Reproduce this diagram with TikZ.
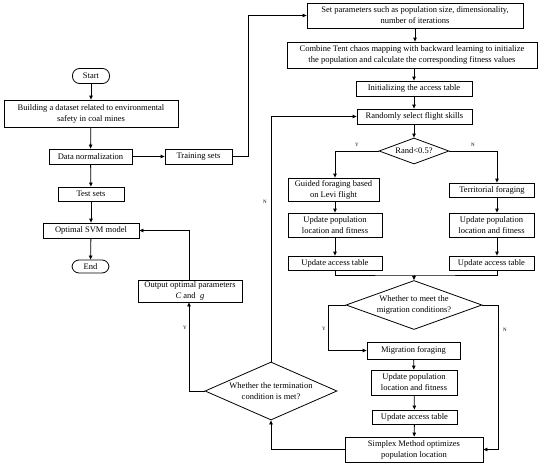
\documentclass[tikz,border=0pt]{standalone}
\usepackage{fontspec}
\setmainfont{Liberation Serif}
\usetikzlibrary{arrows.meta,shapes.geometric}
\begin{document}
\begin{tikzpicture}[x=1pt,y=-1pt,
  font=\fontsize{8.5}{11}\selectfont,
  box/.style={draw,line width=0.8pt,inner sep=1pt,align=center},
  term/.style={draw,line width=0.8pt,rounded corners=7pt,inner sep=1pt,align=center},
  dia/.style={draw,line width=0.8pt,diamond,inner sep=0pt,align=center},
  ln/.style={line width=0.8pt},
  arr/.style={line width=0.8pt,-{Triangle[length=4pt,width=3.5pt]}},
  lab/.style={font=\fontsize{5}{6}\selectfont,inner sep=0pt}]
\useasboundingbox (0,0) rectangle (550,469);
% left column
\node[term,minimum width=37,minimum height=15] (start) at (91,76) {Start};
\node[box,minimum width=174,minimum height=27] (build) at (91,113.5) {Building a dataset related to environmental\\safety in coal mines};
\node[box,minimum width=83,minimum height=15] (norm) at (90.5,156.5) {Data normalization};
\node[box,minimum width=67,minimum height=15] (train) at (198.5,156.5) {Training sets};
\node[box,minimum width=66,minimum height=14] (test) at (91,194) {Test sets};
\node[box,minimum width=96,minimum height=15] (svm) at (91,230.5) {Optimal SVM model};
\node[term,minimum width=37,minimum height=13] (end) at (90.5,266.5) {End};
\node[box,minimum width=104,minimum height=22] (out) at (190,291) {Output optimal parameters\\ \textit{C} and\; \textit{g}};
% right part
\node[box,minimum width=216,minimum height=25] (setp) at (415,15.5) {Set parameters such as population size, dimensionality,\\number of iterations};
\node[box,minimum width=250,minimum height=26] (comb) at (412,55) {Combine Tent chaos mapping with backward learning to initialize\\the population and calculate the corresponding fitness values};
\node[box,minimum width=116,minimum height=15] (init) at (414,88.5) {Initializing the access table};
\node[box,minimum width=115,minimum height=15] (rand) at (414.5,116.5) {Randomly select flight skills};
\node[dia,minimum width=70,minimum height=26,aspect=2.7] (rd) at (414,151) {Rand<0.5?};
\node[box,minimum width=91,minimum height=23] (guid) at (333.5,189.5) {Guided foraging based\\on Levi flight};
\node[box,minimum width=85,minimum height=14] (terr) at (492,190) {Territorial foraging};
\node[box,minimum width=94,minimum height=24] (upl) at (335,225) {Update population\\location and fitness};
\node[box,minimum width=85,minimum height=24] (upr) at (491.5,225) {Update population\\location and fitness};
\node[box,minimum width=94,minimum height=14] (ual) at (335,263) {Update access table};
\node[box,minimum width=85,minimum height=14] (uar) at (491.5,263) {Update access table};
\node[dia,minimum width=136,minimum height=49,aspect=2.8] (md) at (414,305) {Whether to meet the\\migration conditions?};
\node[box,minimum width=93,minimum height=17] (mig) at (413.5,350.5) {Migration foraging};
\node[box,minimum width=86,minimum height=25] (upm) at (414,382.5) {Update population\\location and fitness};
\node[box,minimum width=85,minimum height=14] (uam) at (414.5,417) {Update access table};
\node[box,minimum width=138,minimum height=25] (simp) at (414,449.5) {Simplex Method optimizes\\population location};
\node[dia,minimum width=132,minimum height=58,aspect=2.3] (td) at (271,391) {Whether the termination\\condition is met?};
\coordinate (tr) at (248,156.5);
\coordinate (mj) at (414,275);
\coordinate (my) at (328,305);
\coordinate (mn) at (498,305);
\coordinate (ty) at (189,391);
% connectors
\draw[arr] (start) -- (build);
\draw[arr] (build) -- (norm);
\draw[arr] (norm) -- (train);
\draw[arr] (norm) -- (test);
\draw[arr] (test) -- (svm);
\draw[arr] (svm) -- (end);
\draw[arr] (train.east) -- (tr) |- (setp.west);
\draw[arr] (setp) -- (comb.north -| setp);
\draw[arr] (comb.south -| init) -- (init);
\draw[arr] (init) -- (rand.north -| init);
\draw[arr] (rand.south -| rd) -- (rd);
\draw[arr] (rd.west) -| (guid.north -| 335,0);
\draw[arr] (rd.east) -| ([xshift=5pt]terr.north);
\draw[arr] (guid.south -| 335,0) -- (upl);
\draw[arr] (upl) -- (ual);
\draw[arr] ([xshift=5pt]terr.south) -- (upr.north -| 497,0);
\draw[arr] (upr.south -| 497,0) -- (uar.north -| 497,0);
\draw[ln] (ual.south) |- (mj) -| (uar.south -| 497,0);
\draw[arr] (mj) -- (md.north);
\draw[arr] (md.west) -- (my) |- (mig.west);
\draw[arr] (md.east) -- (mn) |- (simp.east);
\draw[arr] (mig) -- (upm);
\draw[arr] (upm) -- (uam);
\draw[arr] (uam) -- (simp);
\draw[arr] (simp.west) -| (td.south);
\draw[arr] (td.west) -- (ty) -- (out.south -| ty);
\draw[arr] (out.north -| ty) |- (svm.east);
\draw[arr] (td.north) |- (rand.west);
% labels
\node[lab] (ly1) at (357,145) {Y};
\node[lab] (ln1) at (473,145) {N};
\node[lab] (ly2) at (324,329) {Y};
\node[lab] (ln2) at (505,330) {N};
\node[lab] (ly3) at (185,328) {Y};
\node[lab] (ln3) at (265,202) {N};
\end{tikzpicture}
\end{document}
